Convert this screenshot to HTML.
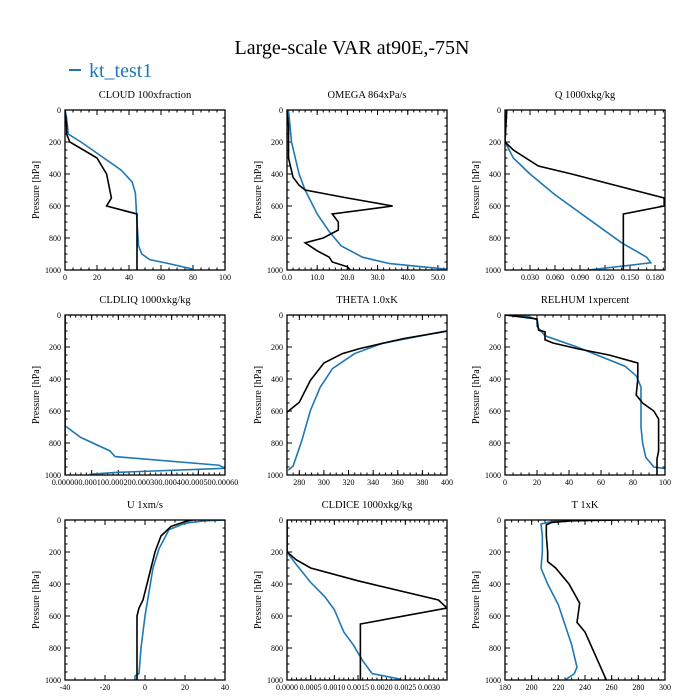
<!DOCTYPE html>
<html><head><meta charset="utf-8">
<style>
html,body{margin:0;padding:0;background:#fff;}
svg{display:block;font-family:"Liberation Serif",serif;}
</style></head>
<body>
<svg id="chart" width="700" height="700" viewBox="0 0 700 700">
<text x="352" y="54" text-anchor="middle" font-size="20">Large-scale VAR at90E,-75N</text>
<g>
<line x1="69" y1="70" x2="81" y2="70" stroke="#1f77b4" stroke-width="2"/>
<text x="89" y="77" font-size="20" fill="#1f77b4">kt_test1</text>
</g>
</svg>
<script>
// ---- data (x value, pressure hPa) ----
const cloudBlackX=[0,1,1,3,20,26,29,26,45,45];
const cloudBlackP=[0,100,150,200,300,400,550,600,650,1000];
const cloudBlueX=[0,1,2,10,35,42,44,45,46,48,53,65,80];
const cloudBlueP=[0,50,150,200,375,450,520,700,850,900,935,960,995];
const omegaBlackX=[0,0.5,0.5,2,4,6,20,35,15,17,17,12,6,10,14,15,20,21];
const omegaBlackP=[0,100,300,420,470,500,550,600,650,700,750,800,830,880,920,950,980,1000];
const omegaBlueX=[0.5,1.5,4,6,10,14,18,25,34,53];
const omegaBlueP=[0,200,400,500,650,760,850,920,960,995];
const qBlackX=[0.002,0,0.01,0.04,0.08,0.191,0.191,0.142,0.142];
const qBlackP=[0,200,250,350,400,550,600,650,1000];
const qBlueX=[0.002,0,0.01,0.03,0.06,0.1,0.14,0.17,0.175,0.1];
const qBlueP=[0,200,300,400,530,680,830,920,955,1000];
const liqBlackX=[0,0];
const liqBlackP=[0,1000];
const liqBlueX=[0,0,0.0000587,0.000168,0.000188,0.000578,0.0006,0.00019,0.000092];
const liqBlueP=[0,692,765,849,885,939,958,984,996];
const thetaBlackX=[270,280,289,300,315,329,365,400];
const thetaBlackP=[608,545,409,300,241,210,147,101];
const thetaBlueX=[271,275,282,289,297,307,325,347,400];
const thetaBlueP=[970,943,786,597,451,335,241,178,99];
const rhBlackX=[0,20,21,25,25,30,45,65,83,83,82,86,93,96,96,95,95];
const rhBlackP=[0,25,95,105,155,175,210,250,300,400,500,550,600,650,850,900,1000];
const rhBlueX=[0,15,20,20,25,45,75,82,85,85,86,88,93,100];
const rhBlueP=[0,10,30,70,130,200,320,380,450,700,800,890,950,960];
const uBlackX=[24,20,13,8,5,3,1,-1,-3,-4,-4,-4];
const uBlackP=[0,10,40,100,200,300,400,500,550,600,800,1000];
const uBlueX=[40,30,20,12,7,4,2,0,-2,-3,-5,-5];
const uBlueP=[0,5,20,60,180,300,450,600,800,960,975,1000];
const iceBlackX=[0,0,0.0002,0.0005,0.0015,0.0032,0.00338,0.00155,0.00155];
const iceBlackP=[0,200,250,300,380,500,550,650,1000];
const iceBlueX=[0,0,0.0002,0.0005,0.0008,0.001,0.0012,0.0014,0.0016,0.0018,0.0024];
const iceBlueP=[0,200,280,390,480,560,700,780,880,960,995];
const tBlackX=[266,230,215,211,211,212,212,218,228,236,234,240,256];
const tBlackP=[0,5,15,30,100,200,260,300,400,520,640,700,1000];
const tBlueX=[245,215,207,208,208,207,212,220,230,234,232,225];
const tBlueP=[0,10,25,100,200,300,400,530,780,920,960,1000];
// ---- tick labels ----
const pTicks=[0,200,400,600,800,1000];
const cloudTicks=[0,20,40,60,80,100];
const omegaTicks=[0,10,20,30,40,50];
const qTicks=[0.03,0.06,0.09,0.12,0.15,0.18];
const liqTicks=[0,0.0001,0.0002,0.0003,0.0004,0.0005,0.0006];
const thetaTicks=[280,300,320,340,360,380,400];
const rhTicks=[0,20,40,60,80,100];
const uTicks=[-40,-20,0,20,40];
const iceTicks=[0,0.0005,0.001,0.0015,0.002,0.0025,0.003];
const tTicks=[180,200,220,240,260,280,300];

const NS='http://www.w3.org/2000/svg';
const svg=document.getElementById('chart');
function mk(tag,attrs,parent){const e=document.createElementNS(NS,tag);for(const k in attrs)e.setAttribute(k,attrs[k]);(parent||svg).appendChild(e);return e;}

const panels=[
 {key:'cloud',title:'CLOUD  100xfraction',x:65,y:110,min:0,max:100,ticks:cloudTicks,dec:0,minor:5,bx:cloudBlackX,bp:cloudBlackP,ux:cloudBlueX,up:cloudBlueP},
 {key:'omega',title:'OMEGA  864xPa/s',x:287,y:110,min:0,max:53,ticks:omegaTicks,dec:1,minor:2,bx:omegaBlackX,bp:omegaBlackP,ux:omegaBlueX,up:omegaBlueP},
 {key:'q',title:'Q  1000xkg/kg',x:505,y:110,min:0,max:0.192,ticks:qTicks,dec:3,minor:0.01,bx:qBlackX,bp:qBlackP,ux:qBlueX,up:qBlueP},
 {key:'cldliq',title:'CLDLIQ  1000xkg/kg',x:65,y:315,min:0,max:0.0006,ticks:liqTicks,dec:5,minor:0.00002,bx:liqBlackX,bp:liqBlackP,ux:liqBlueX,up:liqBlueP},
 {key:'theta',title:'THETA  1.0xK',x:287,y:315,min:270,max:400,ticks:thetaTicks,dec:0,minor:5,bx:thetaBlackX,bp:thetaBlackP,ux:thetaBlueX,up:thetaBlueP},
 {key:'relhum',title:'RELHUM  1xpercent',x:505,y:315,min:0,max:100,ticks:rhTicks,dec:0,minor:5,bx:rhBlackX,bp:rhBlackP,ux:rhBlueX,up:rhBlueP},
 {key:'u',title:'U  1xm/s',x:65,y:520,min:-40,max:40,ticks:uTicks,dec:0,minor:5,bx:uBlackX,bp:uBlackP,ux:uBlueX,up:uBlueP},
 {key:'cldice',title:'CLDICE  1000xkg/kg',x:287,y:520,min:0,max:0.00338,ticks:iceTicks,dec:4,minor:0.0001,bx:iceBlackX,bp:iceBlackP,ux:iceBlueX,up:iceBlueP},
 {key:'t',title:'T  1xK',x:505,y:520,min:180,max:300,ticks:tTicks,dec:0,minor:5,bx:tBlackX,bp:tBlackP,ux:tBlueX,up:tBlueP}
];
const W=160,H=160;
panels.forEach(pn=>{
 const g=mk('g',{});
 
 
 const sx=v=>pn.x+(v-pn.min)/(pn.max-pn.min)*W;
 const sy=p=>pn.y+p/1000*H;
 const t=mk('text',{x:pn.x+W/2,y:pn.y-12,'text-anchor':'middle','font-size':'10.5'},g);
 t.textContent=pn.title;
 
 
 const yl=mk('text',{x:0,y:0,'text-anchor':'middle','font-size':'10',transform:`translate(${pn.x-26},${pn.y+H/2}) rotate(-90)`},g);
 yl.textContent='Pressure [hPa]';
 
 
 for(let p=0;p<=1000;p+=50){
  const major=p%200===0;const L=major?5:2.5;
  mk('line',{x1:pn.x,x2:pn.x+L,y1:sy(p),y2:sy(p),stroke:'#000','stroke-width':1},g);
  mk('line',{x1:pn.x+W,x2:pn.x+W-L,y1:sy(p),y2:sy(p),stroke:'#000','stroke-width':1},g);
 }
 pTicks.forEach(p=>{
  const tl=mk('text',{x:pn.x-4,y:sy(p)+3,'text-anchor':'end','font-size':'8'},g);
  tl.textContent=p;
  
  
 });
 const start=Math.ceil(pn.min/pn.minor-1e-6);
 for(let i=start;i*pn.minor<=pn.max+1e-12;i++){
  const X=sx(i*pn.minor);
  mk('line',{x1:X,x2:X,y1:pn.y+H,y2:pn.y+H-2.5,stroke:'#000','stroke-width':1},g);
  mk('line',{x1:X,x2:X,y1:pn.y,y2:pn.y+2.5,stroke:'#000','stroke-width':1},g);
 }
 pn.ticks.forEach(v=>{
  const X=sx(v);
  mk('line',{x1:X,x2:X,y1:pn.y+H,y2:pn.y+H-5,stroke:'#000','stroke-width':1},g);
  mk('line',{x1:X,x2:X,y1:pn.y,y2:pn.y+5,stroke:'#000','stroke-width':1},g);
  const tl=mk('text',{x:X,y:pn.y+H+10,'text-anchor':'middle','font-size':pn.dec>=5?'8.2':'8'},g);
  tl.textContent=v.toFixed(pn.dec);
  
  
 });
 const cid='clip-'+pn.key;
 const cp=mk('clipPath',{id:cid},g);
 mk('rect',{x:pn.x,y:pn.y,width:W,height:H},cp);
 const blue=mk('polyline',{points:pn.ux.map((v,i)=>sx(v)+','+sy(pn.up[i])).join(' '),fill:'none',stroke:'#1f77b4','stroke-width':1.6,'clip-path':`url(#${cid})`},g);
 
 
 const black=mk('polyline',{points:pn.bx.map((v,i)=>sx(v)+','+sy(pn.bp[i])).join(' '),fill:'none',stroke:'#000','stroke-width':1.6,'clip-path':`url(#${cid})`},g);
 
 
 const fr=mk('rect',{x:pn.x,y:pn.y,width:W,height:H,fill:'none',stroke:'#000','stroke-width':1.3},g);
 
 
});
</script>
</body></html>
